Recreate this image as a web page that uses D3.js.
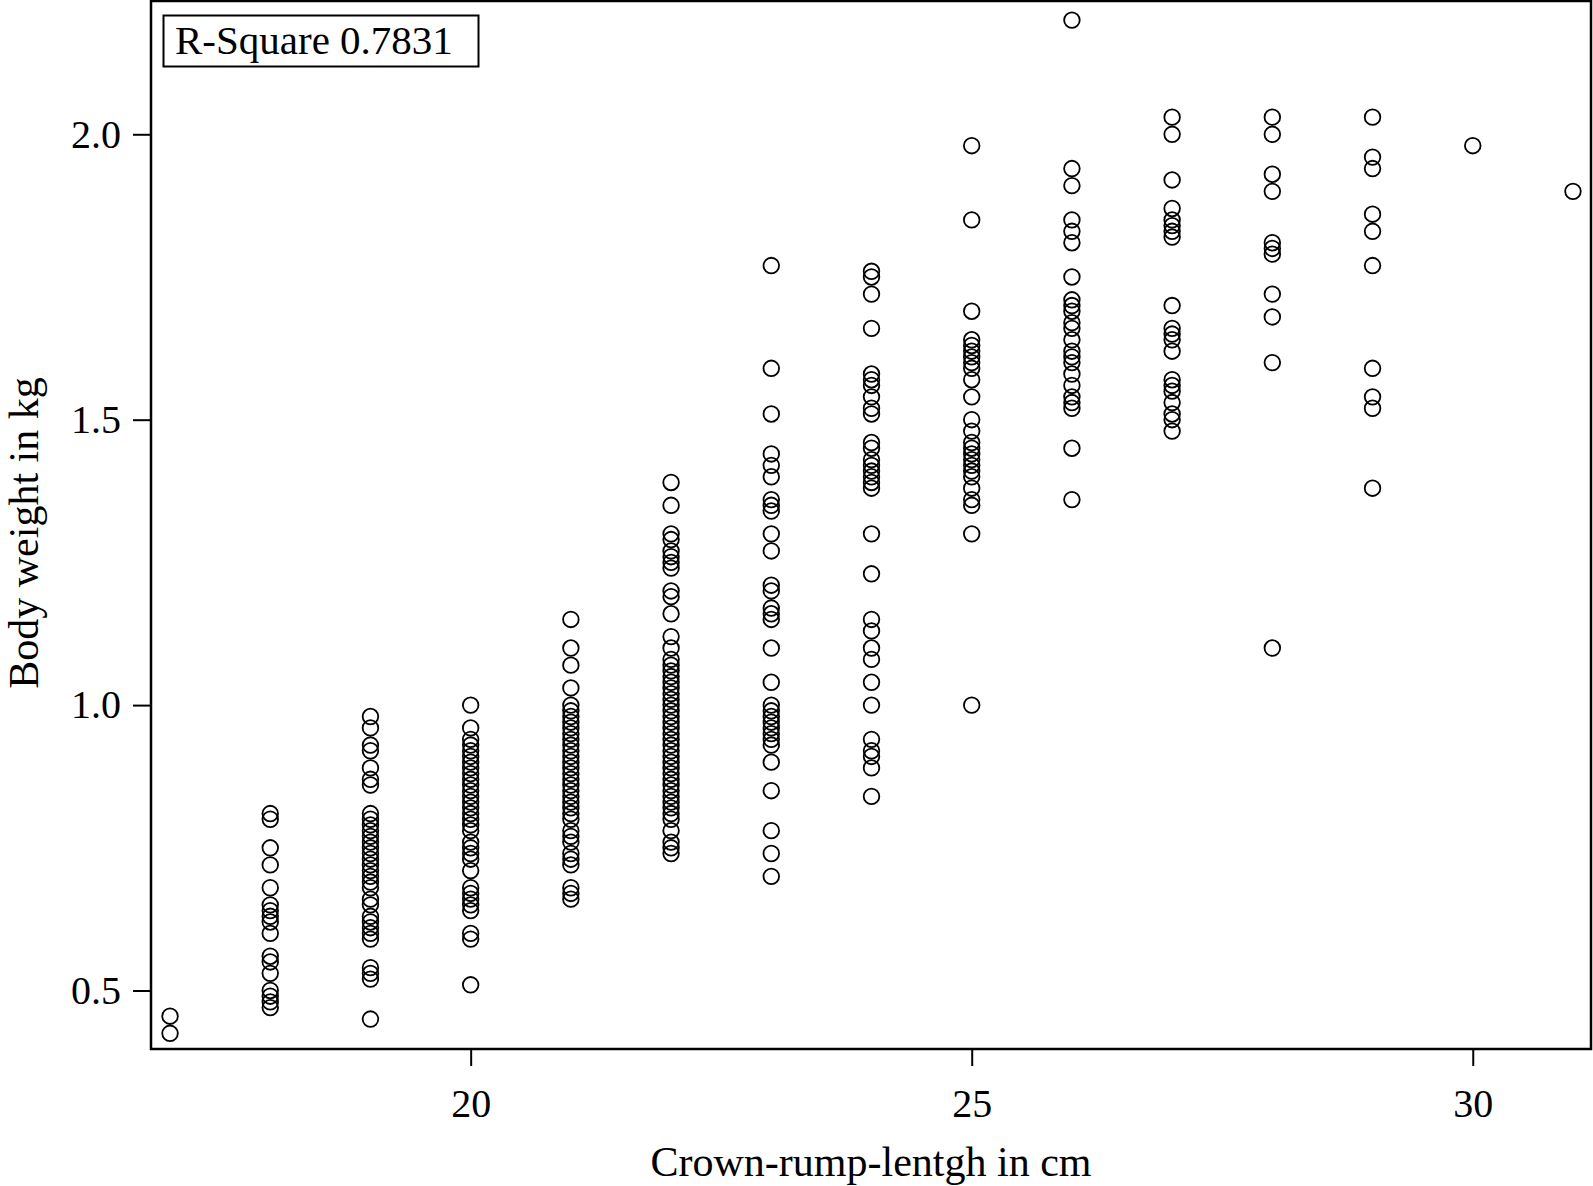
<!DOCTYPE html>
<html>
<head>
<meta charset="utf-8">
<script src="https://cdn.jsdelivr.net/npm/d3@7"></script>
<style>
  html, body { margin: 0; padding: 0; background: #fff; }
  svg { display: block; }
  text { font-family: "Liberation Serif", "DejaVu Serif", serif; fill: #000; }
</style>
</head>
<body>
<svg id="chart" width="1593" height="1186"></svg>
<script>
// Body weight (kg) by crown-rump length (cm)
const len17 = [0.455, 0.425];
const len18 = [0.81, 0.80, 0.75, 0.72, 0.68, 0.65, 0.64, 0.63, 0.62, 0.60, 0.56, 0.55, 0.53, 0.50, 0.49, 0.48, 0.47];
const len19 = [0.98, 0.96, 0.93, 0.92, 0.89, 0.87, 0.86, 0.81, 0.80, 0.79, 0.78, 0.77, 0.76, 0.75, 0.74, 0.73, 0.72, 0.71, 0.70, 0.69, 0.68, 0.66, 0.65, 0.63, 0.62, 0.61, 0.60, 0.59, 0.54, 0.53, 0.52, 0.45];
const len20 = [1.00, 0.96, 0.94, 0.93, 0.92, 0.91, 0.90, 0.89, 0.88, 0.87, 0.86, 0.85, 0.84, 0.83, 0.82, 0.81, 0.80, 0.79, 0.78, 0.76, 0.75, 0.74, 0.73, 0.71, 0.68, 0.67, 0.66, 0.65, 0.64, 0.60, 0.59, 0.51];
const len21 = [1.15, 1.10, 1.07, 1.03, 1.00, 0.99, 0.98, 0.97, 0.96, 0.95, 0.94, 0.93, 0.92, 0.91, 0.90, 0.89, 0.88, 0.87, 0.86, 0.85, 0.84, 0.83, 0.82, 0.81, 0.80, 0.78, 0.77, 0.76, 0.74, 0.73, 0.72, 0.68, 0.67, 0.66];
const len22 = [1.39, 1.35, 1.30, 1.29, 1.27, 1.26, 1.25, 1.24, 1.20, 1.19, 1.16, 1.12, 1.10, 1.08, 1.07, 1.06, 1.05, 1.04, 1.03, 1.02, 1.01, 1.00, 0.99, 0.98, 0.97, 0.96, 0.95, 0.94, 0.93, 0.92, 0.91, 0.90, 0.89, 0.88, 0.87, 0.86, 0.85, 0.84, 0.83, 0.82, 0.81, 0.80, 0.78, 0.76, 0.75, 0.74];
const len23 = [1.77, 1.59, 1.51, 1.44, 1.42, 1.40, 1.36, 1.35, 1.34, 1.30, 1.27, 1.21, 1.20, 1.17, 1.16, 1.15, 1.10, 1.04, 1.00, 0.99, 0.98, 0.97, 0.96, 0.95, 0.94, 0.93, 0.90, 0.85, 0.78, 0.74, 0.70];
const len24 = [1.76, 1.75, 1.72, 1.66, 1.58, 1.57, 1.56, 1.54, 1.52, 1.51, 1.46, 1.45, 1.43, 1.42, 1.41, 1.40, 1.39, 1.38, 1.30, 1.23, 1.15, 1.13, 1.10, 1.08, 1.04, 1.00, 0.94, 0.92, 0.91, 0.89, 0.84];
const len25 = [1.98, 1.85, 1.69, 1.64, 1.63, 1.62, 1.61, 1.60, 1.59, 1.57, 1.54, 1.50, 1.48, 1.46, 1.45, 1.44, 1.43, 1.42, 1.41, 1.40, 1.38, 1.36, 1.35, 1.30, 1.00];
const len26 = [2.20, 1.94, 1.91, 1.85, 1.83, 1.81, 1.75, 1.71, 1.70, 1.69, 1.67, 1.66, 1.64, 1.62, 1.61, 1.60, 1.58, 1.56, 1.54, 1.53, 1.52, 1.45, 1.36];
const len27 = [2.03, 2.00, 1.92, 1.87, 1.85, 1.84, 1.83, 1.82, 1.70, 1.66, 1.65, 1.64, 1.62, 1.57, 1.56, 1.55, 1.53, 1.51, 1.50, 1.48];
const len28 = [2.03, 2.00, 1.93, 1.90, 1.81, 1.80, 1.79, 1.72, 1.68, 1.60, 1.10];
const len29 = [2.03, 1.96, 1.94, 1.86, 1.83, 1.77, 1.59, 1.54, 1.52, 1.38];
const len30 = [1.98];
const len31 = [1.90];

const lengths = [17, 18, 19, 20, 21, 22, 23, 24, 25, 26, 27, 28, 29, 30, 31];
const weights = [len17, len18, len19, len20, len21, len22, len23, len24, len25, len26, len27, len28, len29, len30, len31];

const xTicks = [20, 25, 30];
const yTicks = [0.5, 1.0, 1.5, 2.0];
const xTitle = "Crown-rump-lentgh in cm";
const yTitle = "Body weight in kg";
const rSquareLabel = "R-Square 0.7831";

(function () {
  const points = [];
  lengths.forEach((L, i) => weights[i].forEach(w => points.push({ x: L, y: w })));

  const svg = d3.select("#chart");
  const pLeft = 151, pRight = 1591, pTop = 1, pBottom = 1049;

  const x = d3.scaleLinear().domain([16.81, 31.18]).range([pLeft, pRight]);
  const y = d3.scaleLinear().domain([0.3975, 2.2335]).range([pBottom, pTop]);

  const xAxis = d3.axisBottom(x).tickValues(xTicks).tickFormat(d3.format("d")).tickSize(17).tickSizeOuter(0).tickPadding(23);
  const yAxis = d3.axisLeft(y).tickValues(yTicks).tickFormat(d3.format(".1f")).tickSize(18).tickSizeOuter(0).tickPadding(12);

  const gx = svg.append("g").attr("transform", `translate(0,${pBottom})`).call(xAxis);
  const gy = svg.append("g").attr("transform", `translate(${pLeft},0)`).call(yAxis);
  [gx, gy].forEach(g => {
    g.select(".domain").remove();
    g.selectAll(".tick line").attr("stroke", "#000").attr("stroke-width", 2);
    g.selectAll(".tick text").style("font-family", "'Liberation Serif', serif").style("font-size", "40px").attr("fill", "#000");
  });

  svg.append("rect")
    .attr("x", pLeft).attr("y", pTop)
    .attr("width", pRight - pLeft).attr("height", pBottom - pTop)
    .attr("fill", "none").attr("stroke", "#000").attr("stroke-width", 2.5);

  svg.append("g").selectAll("circle").data(points).join("circle")
    .attr("cx", d => x(d.x)).attr("cy", d => y(d.y)).attr("r", 7.8)
    .attr("fill", "none").attr("stroke", "#000").attr("stroke-width", 1.8);

  svg.append("rect").attr("x", 163.5).attr("y", 15.5).attr("width", 315).attr("height", 51)
    .attr("fill", "#fff").attr("stroke", "#000").attr("stroke-width", 2);
  svg.append("text").attr("x", 175).attr("y", 54).style("font-size", "41px").text(rSquareLabel);

  svg.append("text").attr("x", (pLeft + pRight) / 2).attr("y", 1176).attr("text-anchor", "middle")
    .style("font-size", "42px").text(xTitle);
  svg.append("text").attr("transform", `translate(38,${(pTop + pBottom) / 2 + 8}) rotate(-90)`).attr("text-anchor", "middle")
    .style("font-size", "42px").text(yTitle);
})();
</script>
</body>
</html>
